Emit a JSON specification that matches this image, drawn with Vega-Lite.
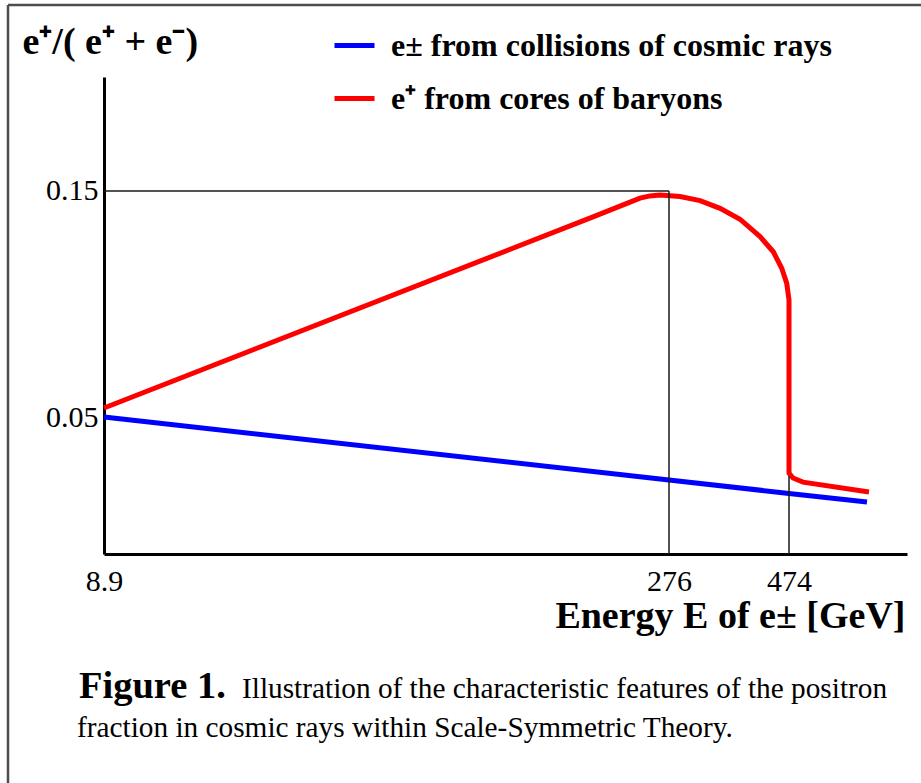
{
  "$schema": "https://vega.github.io/schema/vega-lite/v6.json",
  "width": 803,
  "height": 477,
  "autosize": {"type": "none"},
  "padding": {"left": 104, "top": 77, "right": 14, "bottom": 229},
  "background": "white",
  "config": {"view": {"stroke": null}, "font": "Liberation Serif", "mark": {"clip": false}},
  "layer": [
    {
      "data": {
        "values": [
          {"series": "e± from collisions of cosmic rays", "i": 1, "E": 8.9, "f": 0.05},
          {"series": "e± from collisions of cosmic rays", "i": 2, "E": 276, "f": 0.0221},
          {"series": "e± from collisions of cosmic rays", "i": 3, "E": 474, "f": 0.0162},
          {"series": "e± from collisions of cosmic rays", "i": 4, "E": 602.7, "f": 0.0124},
          {"series": "e⁺ from cores of baryons", "i": 1, "E": 8.9, "f": 0.054},
          {"series": "e⁺ from cores of baryons", "i": 2, "E": 240.1, "f": 0.1385},
          {"series": "e⁺ from cores of baryons", "i": 3, "E": 256.1, "f": 0.1445},
          {"series": "e⁺ from cores of baryons", "i": 4, "E": 262.3, "f": 0.1468},
          {"series": "e⁺ from cores of baryons", "i": 5, "E": 267.0, "f": 0.1478},
          {"series": "e⁺ from cores of baryons", "i": 6, "E": 271.7, "f": 0.1482},
          {"series": "e⁺ from cores of baryons", "i": 7, "E": 277.7, "f": 0.1479},
          {"series": "e⁺ from cores of baryons", "i": 8, "E": 294.2, "f": 0.1475},
          {"series": "e⁺ from cores of baryons", "i": 9, "E": 327.2, "f": 0.1457},
          {"series": "e⁺ from cores of baryons", "i": 10, "E": 360.2, "f": 0.1423},
          {"series": "e⁺ from cores of baryons", "i": 11, "E": 393.2, "f": 0.1375},
          {"series": "e⁺ from cores of baryons", "i": 12, "E": 426.2, "f": 0.1298},
          {"series": "e⁺ from cores of baryons", "i": 13, "E": 448.1, "f": 0.1231},
          {"series": "e⁺ from cores of baryons", "i": 14, "E": 462.0, "f": 0.1158},
          {"series": "e⁺ from cores of baryons", "i": 15, "E": 470.2, "f": 0.1092},
          {"series": "e⁺ from cores of baryons", "i": 16, "E": 474, "f": 0.1018},
          {"series": "e⁺ from cores of baryons", "i": 17, "E": 474, "f": 0.0252},
          {"series": "e⁺ from cores of baryons", "i": 18, "E": 480.6, "f": 0.0230},
          {"series": "e⁺ from cores of baryons", "i": 19, "E": 497.1, "f": 0.0212},
          {"series": "e⁺ from cores of baryons", "i": 20, "E": 606.0, "f": 0.0168}
        ]
      },
      "mark": {"type": "line", "strokeWidth": 5},
      "encoding": {
        "x": {
          "field": "E",
          "type": "quantitative",
          "scale": {"domain": [8.9, 276, 474, 668.7], "range": [0, 565, 685, 803], "nice": false, "zero": false, "clamp": false},
          "axis": {
            "values": [8.9, 276, 474],
            "labelExpr": "'' + datum.value",
            "ticks": false,
            "grid": false,
            "domainColor": "black",
            "domainWidth": 3,
            "labelFont": "Liberation Serif",
            "labelFontSize": 30,
            "labelColor": "black",
            "labelPadding": 12,
            "labelFlush": false,
            "labelOverlap": false,
            "title": "Energy E of e± [GeV]",
            "titleFont": "Liberation Serif",
            "titleFontSize": 38,
            "titleFontWeight": "bold",
            "titleColor": "black",
            "titleAlign": "right",
            "titleAnchor": null,
            "titleBaseline": "alphabetic",
            "titleX": 801,
            "titleY": 73
          }
        },
        "y": {
          "field": "f",
          "type": "quantitative",
          "scale": {"domain": [-0.0106, 0.2004], "nice": false, "zero": false},
          "axis": {
            "values": [0.05, 0.15],
            "format": ".2f",
            "ticks": false,
            "grid": false,
            "domainColor": "black",
            "domainWidth": 3,
            "labelFont": "Liberation Serif",
            "labelFontSize": 30,
            "labelColor": "black",
            "labelPadding": 6,
            "title": "e⁺/( e⁺ + e⁻)",
            "titleFont": "Liberation Serif",
            "titleFontSize": 38,
            "titleFontWeight": "bold",
            "titleColor": "black",
            "titleAngle": 0,
            "titleAlign": "left",
            "titleAnchor": null,
            "titleBaseline": "alphabetic",
            "titleX": -82,
            "titleY": -24
          }
        },
        "order": {"field": "i", "type": "quantitative"},
        "color": {
          "field": "series",
          "type": "nominal",
          "scale": {"domain": ["e± from collisions of cosmic rays", "e⁺ from cores of baryons"], "range": ["#0000ff", "#ff0000"]},
          "legend": {
            "orient": "none",
            "legendX": 228,
            "legendY": -54,
            "title": null,
            "padding": 0,
            "symbolType": "stroke",
            "symbolStrokeWidth": 5,
            "symbolSize": 1600,
            "labelFont": "Liberation Serif",
            "labelFontWeight": "bold",
            "labelFontSize": 32,
            "labelColor": "black",
            "labelOffset": 14,
            "labelLimit": 0,
            "rowPadding": 14
          }
        }
      }
    },
    {
      "data": {
        "values": [
          {"E": 8.9, "E2": 276, "f": 0.15, "f2": 0.15},
          {"E": 276, "E2": 276, "f": -0.0106, "f2": 0.15},
          {"E": 474, "E2": 474, "f": -0.0106, "f2": 0.0238}
        ]
      },
      "mark": {"type": "rule", "color": "#1a1a1a", "strokeWidth": 1.5},
      "encoding": {
        "x": {"field": "E", "type": "quantitative"},
        "x2": {"field": "E2"},
        "y": {"field": "f", "type": "quantitative"},
        "y2": {"field": "f2"}
      }
    },
    {
      "data": {"values": [{}]},
      "mark": {"type": "rule", "color": "#4d4d4d", "strokeWidth": 2.5},
      "encoding": {
        "x": {"datum": -36.48, "type": "quantitative"},
        "x2": {"datum": 900},
        "y": {"datum": 0.2323, "type": "quantitative"}
      }
    },
    {
      "data": {"values": [{}]},
      "mark": {"type": "rule", "color": "#4d4d4d", "strokeWidth": 2.5},
      "encoding": {
        "x": {"datum": -36.48, "type": "quantitative"},
        "y": {"datum": 0.2323, "type": "quantitative"},
        "y2": {"datum": -0.2}
      }
    },
    {
      "data": {"values": [{}]},
      "mark": {"type": "text", "font": "Liberation Serif", "fontWeight": "bold", "fontSize": 38.5, "align": "left", "baseline": "alphabetic", "color": "black"},
      "encoding": {
        "x": {"datum": -2.92, "type": "quantitative"},
        "y": {"datum": -0.07434, "type": "quantitative"},
        "text": {"value": "Figure 1."}
      }
    },
    {
      "data": {"values": [{}]},
      "mark": {"type": "text", "font": "Liberation Serif", "fontSize": 29.3, "align": "left", "baseline": "alphabetic", "color": "black"},
      "encoding": {
        "x": {"datum": 74.14, "type": "quantitative"},
        "y": {"datum": -0.07434, "type": "quantitative"},
        "text": {"value": "Illustration of the characteristic features of the positron"}
      }
    },
    {
      "data": {"values": [{}]},
      "mark": {"type": "text", "font": "Liberation Serif", "fontSize": 29.3, "align": "left", "baseline": "alphabetic", "color": "black"},
      "encoding": {
        "x": {"datum": -3.86, "type": "quantitative"},
        "y": {"datum": -0.09159, "type": "quantitative"},
        "text": {"value": "fraction in cosmic rays within Scale-Symmetric Theory."}
      }
    }
  ]
}
